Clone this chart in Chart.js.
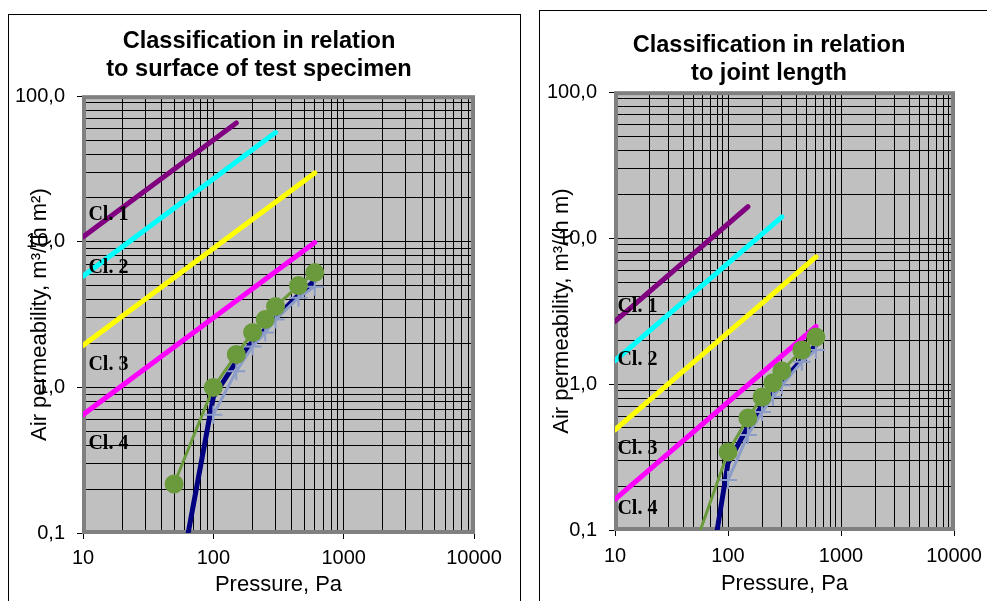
<!DOCTYPE html>
<html lang="en">

<head>
    <meta charset="UTF-8" />
    <title>Air permeability classification</title>
    <script src="https://cdn.jsdelivr.net/npm/chart.js"></script>
    <style>
        html, body {
            margin: 0;
            background: #fff;
            overflow: hidden;
        }

        body {
            position: relative;
            width: 987px;
            height: 601px;
        }

        .panel {
            position: absolute;
            border: 1px solid #000;
            border-bottom: none;
        }

        #panelLeft { left: 8px; top: 14px; width: 511px; height: 600px; }
        #panelRight { left: 539px; top: 10px; width: 500px; height: 600px; }

        canvas { position: absolute; }
        #chartLeft { left: 9px; top: 15px; }
        #chartRight { left: 540px; top: 11px; }
    </style>
</head>

<body>
    <div class="panel" id="panelLeft"></div>
    <div class="panel" id="panelRight"></div>
    <canvas id="chartLeft" width="500" height="586"></canvas>
    <canvas id="chartRight" width="458" height="590"></canvas>

    <script>
        // axis decades and their labels
        const xDecades = [10, 100, 1000, 10000];
        const xTickLabels = ['10', '100', '1000', '10000'];
        const yDecades = [0.1, 1, 10, 100];
        const yTickLabels = ['0,1', '1,0', '10,0', '100,0'];

        // class limit lines (start / end pressure)
        const classNames = ['Cl. 1', 'Cl. 2', 'Cl. 3', 'Cl. 4'];
        const classPressure = [[10, 150], [10, 300], [10, 600], [10, 600]];
        const surfClass = [[10.8, 65.5], [5.8, 56.2], [1.94, 29.7], [0.65, 9.9]];
        const jointClass = [[2.69, 16.4], [1.45, 14.0], [0.485, 7.43], [0.162, 2.48]];

        // measured series
        const pressure = [50, 100, 150, 200, 250, 300, 450, 600];
        const surfGreen = [0.217, 1.0, 1.68, 2.38, 2.92, 3.59, 5.0, 6.14];
        const surfNavy = [0.03, 0.86, 1.5, 2.07, 2.5, 3.0, 4.3, 5.4];
        const surfBlue = [null, 0.65, 1.29, 1.91, 2.38, 2.92, 4.13, 4.92];
        const jointGreen = [0.075, 0.342, 0.585, 0.815, 1.02, 1.23, 1.71, 2.10];
        const jointNavy = [0.0103, 0.288, 0.51, 0.71, 0.86, 1.03, 1.47, 1.85];
        const jointBlue = [null, 0.22, 0.448, 0.643, 0.815, 0.98, 1.42, 1.71];

        // where the "Cl. n" tags sit (pressure, permeability)
        const surfTagAt = [[11, 15.3], [11, 6.6], [11, 1.44], [11, 0.41]];
        const jointTagAt = [[10.5, 3.37], [10.5, 1.46], [10.5, 0.359], [10.5, 0.139]];

        const classColors = ['#800080', '#00ffff', '#ffff00', '#ff00ff'];
        const FONT = "'Liberation Sans', Arial, sans-serif";

        function gridValues(decades) {
            const out = [];
            for (let i = 0; i < decades.length - 1; i++) {
                for (let m = 1; m < 10; m++) out.push(decades[i] * m);
            }
            out.push(decades[decades.length - 1]);
            return out;
        }

        function decadeIndex(decades, v) {
            return decades.findIndex(d => Math.abs(v / d - 1) < 1e-6);
        }

        function points(xs, ys) {
            return xs.map((x, i) => ({ x, y: ys[i] }));
        }

        const plotFrame = {
            id: 'plotFrame',
            beforeDraw(chart) {
                const { ctx, chartArea: a } = chart;
                ctx.save();
                ctx.fillStyle = '#c0c0c0';
                ctx.fillRect(a.left, a.top, a.width, a.height);
                ctx.restore();
            },
            beforeDatasetsDraw(chart) {
                const { ctx, chartArea: a } = chart;
                ctx.save();
                ctx.strokeStyle = '#808080';
                ctx.lineWidth = 4;
                ctx.strokeRect(a.left + 1, a.top + 1, a.width - 2, a.height - 2);
                ctx.restore();
            }
        };

        const classTags = {
            id: 'classTags',
            afterDatasetsDraw(chart, args, opts) {
                const { ctx, scales: { x, y } } = chart;
                ctx.save();
                ctx.font = "bold 20px 'Liberation Serif', serif";
                ctx.fillStyle = '#000';
                ctx.textAlign = 'left';
                ctx.textBaseline = 'middle';
                opts.at.forEach((p, i) => {
                    ctx.fillText(classNames[i], x.getPixelForValue(p[0]), y.getPixelForValue(p[1]));
                });
                ctx.restore();
            }
        };

        function drawPanel(id, cfg) {
            const datasets = classNames.map((name, i) => ({
                label: name,
                data: points(classPressure[i], cfg.classes[i]),
                borderColor: classColors[i],
                borderWidth: 5,
                borderCapStyle: 'round',
                pointRadius: 0,
                yAxisID: 'y',
                order: 4
            }));

            datasets.push({
                label: 'Measured',
                data: points(pressure, cfg.navy),
                borderColor: '#000080',
                borderWidth: 5,
                pointRadius: 0,
                clip: 0,
                yAxisID: 'y',
                order: 3
            });
            datasets.push({
                label: 'Series 2',
                data: points(pressure, cfg.blue),
                borderColor: '#8c9cc8',
                borderWidth: 3,
                pointStyle: 'cross',
                pointRadius: 9,
                pointBorderWidth: 2,
                pointBorderColor: '#8c9cc8',
                clip: 0,
                yAxisID: 'y',
                order: 2
            });
            datasets.push({
                label: 'Series 3',
                data: points(pressure, cfg.green),
                borderColor: '#6a9a3c',
                backgroundColor: '#6a9a3c',
                borderWidth: 3,
                pointRadius: 8,
                pointBackgroundColor: '#6a9a3c',
                pointBorderColor: '#6a9a3c',
                clip: 0,
                yAxisID: 'y',
                order: 1
            });

            new Chart(document.getElementById(id), {
                type: 'line',
                data: { datasets },
                plugins: [plotFrame, classTags],
                options: {
                    responsive: false,
                    animation: false,
                    layout: { padding: 0 },
                    plugins: {
                        legend: { display: false },
                        tooltip: { enabled: false },
                        title: {
                            display: true,
                            text: cfg.title,
                            color: '#000',
                            font: { family: FONT, size: 23.6, weight: 'bold', lineHeight: 1.19 },
                            padding: cfg.titlePad
                        },
                        classTags: { at: cfg.tags }
                    },
                    scales: {
                        x: {
                            type: 'logarithmic',
                            min: 10,
                            max: 10000,
                            afterBuildTicks: axis => { axis.ticks = gridValues(xDecades).map(v => ({ value: v })); },
                            afterFit: axis => { axis.height = cfg.xAxisHeight; },
                            ticks: {
                                autoSkip: false,
                                maxRotation: 0,
                                padding: cfg.xTickPad,
                                color: '#000',
                                font: { family: FONT, size: 20 },
                                callback: v => {
                                    const i = decadeIndex(xDecades, v);
                                    return i < 0 ? '' : xTickLabels[i];
                                }
                            },
                            grid: {
                                color: '#000',
                                lineWidth: 1,
                                tickLength: 6,
                                tickColor: ctx => decadeIndex(xDecades, ctx.tick.value) < 0 ? 'rgba(0,0,0,0)' : '#000'
                            },
                            border: { display: false },
                            title: {
                                display: true,
                                text: 'Pressure, Pa',
                                color: '#000',
                                font: { family: FONT, size: 22 },
                                padding: { top: 0, bottom: cfg.xTitlePad }
                            }
                        },
                        y: {
                            type: 'logarithmic',
                            min: 0.1,
                            max: 100,
                            afterBuildTicks: axis => { axis.ticks = gridValues(yDecades).map(v => ({ value: v })); },
                            afterFit: axis => { axis.width = cfg.yAxisWidth; },
                            ticks: {
                                autoSkip: false,
                                padding: 12,
                                color: '#000',
                                font: { family: FONT, size: 20 },
                                callback: v => {
                                    const i = decadeIndex(yDecades, v);
                                    return i < 0 ? '' : yTickLabels[i];
                                }
                            },
                            grid: {
                                color: '#000',
                                lineWidth: 1,
                                tickLength: 6,
                                tickColor: ctx => decadeIndex(yDecades, ctx.tick.value) < 0 ? 'rgba(0,0,0,0)' : '#000'
                            },
                            border: { display: false },
                            title: {
                                display: true,
                                text: cfg.yTitle,
                                color: '#000',
                                font: { family: FONT, size: 22 },
                                padding: { top: cfg.yTitlePad, bottom: 0 }
                            }
                        },
                        // empty spacer on the right so the title centres on the whole panel
                        spacer: {
                            axis: 'y',
                            type: 'linear',
                            position: 'right',
                            grid: { display: false },
                            ticks: { display: false },
                            border: { display: false },
                            afterFit: axis => { axis.width = cfg.rightGap; }
                        }
                    }
                }
            });
        }

        drawPanel('chartLeft', {
            title: ['Classification in relation', 'to surface of test specimen'],
            yTitle: 'Air permeability, m³/(h m²)',
            classes: surfClass,
            green: surfGreen,
            navy: surfNavy,
            blue: surfBlue,
            tags: surfTagAt,
            rightGap: 35,
            titlePad: { top: 12, bottom: 13 },
            xAxisHeight: 68,
            xTickPad: 7,
            xTitlePad: 3,
            yAxisWidth: 74,
            yTitlePad: 18
        });

        drawPanel('chartRight', {
            title: ['Classification in relation', 'to joint length'],
            yTitle: 'Air permeability, m³/(h m)',
            classes: jointClass,
            green: jointGreen,
            navy: jointNavy,
            blue: jointBlue,
            tags: jointTagAt,
            rightGap: 44,
            titlePad: { top: 20, bottom: 5 },
            xAxisHeight: 71,
            xTickPad: 8,
            xTitlePad: 4,
            yAxisWidth: 75,
            yTitlePad: 9
        });
    </script>
</body>

</html>
